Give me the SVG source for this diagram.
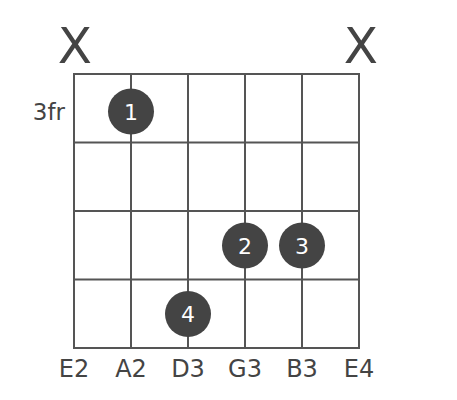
<svg xmlns="http://www.w3.org/2000/svg" width="457" height="400" viewBox="0 0 457 400">
<style>
.ln{stroke:#555;stroke-width:2;fill:none}
.dot{fill:#444}
.fn{font-family:"DejaVu Sans",Verdana,sans-serif;font-size:22px;fill:#fff;text-anchor:middle}
.lb{font-family:"DejaVu Sans",Verdana,sans-serif;font-size:24px;fill:#444;text-anchor:middle}
.x{font-family:"DejaVu Sans",Verdana,sans-serif;font-size:50px;fill:#444;text-anchor:middle}
</style>
<rect width="457" height="400" fill="#fff"/>
<g id="grid">
<rect class="ln" x="74" y="74" width="285" height="274"/>
<line class="ln" x1="131" y1="74" x2="131" y2="348"/>
<line class="ln" x1="188" y1="74" x2="188" y2="348"/>
<line class="ln" x1="245" y1="74" x2="245" y2="348"/>
<line class="ln" x1="302" y1="74" x2="302" y2="348"/>
<line class="ln" x1="74" y1="142.5" x2="359" y2="142.5"/>
<line class="ln" x1="74" y1="211" x2="359" y2="211"/>
<line class="ln" x1="74" y1="279.5" x2="359" y2="279.5"/>
</g>
<g id="mutes">
<text class="x" x="75" y="63">X</text>
<text class="x" x="361" y="63">X</text>
</g>
<text id="fret" x="65" y="120" font-family="DejaVu Sans,Verdana,sans-serif" font-size="23" fill="#444" text-anchor="end">3fr</text>
<g id="f1"><circle class="dot" cx="131" cy="111.5" r="23"/><text class="fn" x="131" y="119.5">1</text></g>
<g id="f2"><circle class="dot" cx="245" cy="245.5" r="23"/><text class="fn" x="245" y="253.5">2</text></g>
<g id="f3"><circle class="dot" cx="302" cy="245.5" r="23"/><text class="fn" x="302" y="253.5">3</text></g>
<g id="f4"><circle class="dot" cx="188" cy="314" r="23"/><text class="fn" x="188" y="322">4</text></g>
<g id="labels">
<text class="lb" x="74" y="376.5">E2</text>
<text class="lb" x="131" y="376.5">A2</text>
<text class="lb" x="188" y="376.5">D3</text>
<text class="lb" x="245" y="376.5">G3</text>
<text class="lb" x="302" y="376.5">B3</text>
<text class="lb" x="359" y="376.5">E4</text>
</g>
</svg>
